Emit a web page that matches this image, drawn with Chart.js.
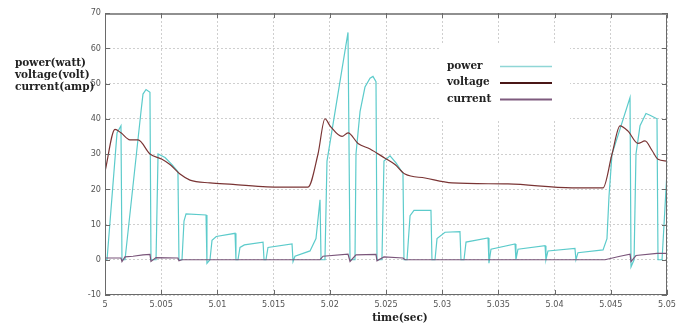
<!DOCTYPE html>
<html>
<head>
<meta charset="utf-8">
<script src="https://cdn.jsdelivr.net/npm/chart.js@4/dist/chart.umd.min.js"></script>
<style>
html,body{margin:0;padding:0;background:#fff;}
canvas{display:block;}
</style>
</head>
<body>
<canvas id="c" width="684" height="329"></canvas>
<script>
// ---- data ----
const xTickValues = [5, 5.005, 5.01, 5.015, 5.02, 5.025, 5.03, 5.035, 5.04, 5.045, 5.05];
const xTickLabels = ['5', '5.005', '5.01', '5.015', '5.02', '5.025', '5.03', '5.035', '5.04', '5.045', '5.05'];
const yTickValues = [-10, 0, 10, 20, 30, 40, 50, 60, 70];
const seriesNames = ['power', 'voltage', 'current'];
const yTitleLines = ['power(watt)', 'voltage(volt)', 'current(amp)'];
const xTitle = 'time(sec)';

const powerT = [5.00000, 5.00018, 5.00107, 5.00142, 5.00151, 5.00178, 5.00320, 5.00338, 5.00365, 5.00400, 5.00409,
  5.00454, 5.00472, 5.00534, 5.00596, 5.00649, 5.00658, 5.00685, 5.00703, 5.00721, 5.00899, 5.00907,
  5.00934, 5.00952, 5.00990, 5.01157, 5.01165, 5.01183, 5.01201, 5.01240, 5.01406, 5.01415, 5.01432, 5.01450,
  5.01664, 5.01673, 5.01690, 5.01824, 5.01877, 5.01913, 5.01922, 5.01957, 5.01975, 5.02162,
  5.02180, 5.02224, 5.02233, 5.02269, 5.02313, 5.02358, 5.02384, 5.02411, 5.02420, 5.02464,
  5.02482, 5.02536, 5.02589, 5.02651, 5.02660, 5.02687, 5.02714, 5.02749, 5.02900, 5.02909,
  5.02936, 5.02954, 5.03025, 5.03158, 5.03167, 5.03194, 5.03212, 5.03408, 5.03416, 5.03434,
  5.03648, 5.03656, 5.03674, 5.03915, 5.03923, 5.03941, 5.04181, 5.04190, 5.04208, 5.04431,
  5.04466, 5.04484, 5.04511, 5.04671, 5.04680, 5.04707, 5.04724, 5.04760, 5.04813, 5.04849, 5.04911,
  5.04920, 5.04956, 5.05000];
const powerV = [0, 0, 36, 38, 0, 0, 42, 47, 48.3, 47.5, 0,
  0, 30, 29, 27, 25, 0, 0, 11, 13, 12.7, -1,
  0, 5.5, 6.6, 7.5, 0, 0, 3.5, 4.2, 5, 0, 0, 3.5,
  4.5, -0.5, 1, 2.5, 6, 17, 0, 0, 28, 64.5,
  0, 0, 30, 42, 49, 51.5, 52, 50.5, 0, 0,
  28, 29.5, 27.5, 24.5, 0, 0, 12.5, 14, 14, 0,
  0, 6, 7.8, 8, 0, 0, 5, 6.2, -1, 3,
  4.5, 0, 3, 4, 0, 2.5, 3.2, 0, 2, 2.8,
  6, 18, 30, 46, -2, 0, 30, 38, 41.5, 41, 40,
  0, 0, 25];

const voltageT = [5.00000, 5.00089, 5.00142, 5.00222, 5.00294, 5.00400, 5.00507, 5.00578, 5.00667, 5.00756,
  5.00934, 5.01139, 5.01441, 5.01806, 5.01895, 5.01957, 5.02002, 5.02109, 5.02162, 5.02251,
  5.02358, 5.02491, 5.02580, 5.02669, 5.02847, 5.03087, 5.03585, 5.04155, 5.04431, 5.04511,
  5.04582, 5.04653, 5.04742, 5.04804, 5.04867, 5.04920, 5.05000];
const voltageV = [25, 37, 36, 34, 34, 30, 28.5, 27, 24.3, 22.6,
  21.8, 21.4, 20.7, 20.6, 30, 40, 38, 35, 36, 33,
  31.4, 28.8, 27, 24.3, 23.2, 21.8, 21.5, 20.4, 20.4, 30,
  38, 36.5, 33, 33.7, 31, 28.5, 28];

const currentT = [5.00000, 5.00142, 5.00151, 5.00178, 5.00249, 5.00338, 5.00400, 5.00409, 5.00454, 5.00649,
  5.00658, 5.00685, 5.01913, 5.01940, 5.02162, 5.02180, 5.02233, 5.02411, 5.02420, 5.02482,
  5.02651, 5.02669, 5.04448, 5.04582, 5.04671, 5.04680, 5.04724, 5.04911, 5.05000];
const currentV = [0.5, 0.5, -0.5, 0.8, 1, 1.4, 1.5, -0.5, 0.6, 0.5,
  -0.3, 0, 0, 1, 1.6, -0.5, 1.4, 1.5, -0.3, 0.8,
  0.5, 0, 0, 1, 1.6, -0.5, 1.2, 1.8, 1.8];

const colors = ['#5ccbcb', '#7a3434', '#7a557a'];
const legendColors = ['#8fd6d6', '#4a1616', '#7e5a7e'];

const toPts = (t, v) => t.map((x, i) => ({x: x, y: v[i]}));

const serif = "'DejaVu Serif', 'Liberation Serif', serif";
const narrow = "'Liberation Sans Narrow', 'DejaVu Sans Condensed', 'Liberation Sans', sans-serif";

const decor = {
  id: 'decor',
  afterDraw(chart) {
    const ctx = chart.ctx;
    const a = chart.chartArea;
    const xs = chart.scales.x, ys = chart.scales.y;
    ctx.save();
    // frame
    ctx.strokeStyle = '#6a6a6a';
    ctx.lineWidth = 1;
    ctx.strokeRect(a.left + 0.5, a.top + 0.5, a.right - a.left - 1, a.bottom - a.top - 1);
    ctx.strokeStyle = '#909090';
    ctx.lineWidth = 2;
    ctx.beginPath(); ctx.moveTo(a.left, a.top + 1); ctx.lineTo(a.right, a.top + 1); ctx.stroke();
    // inward ticks
    ctx.strokeStyle = '#6a6a6a';
    ctx.lineWidth = 1;
    ctx.beginPath();
    xTickValues.forEach(v => {
      const px = Math.round(xs.getPixelForValue(v)) + 0.5;
      ctx.moveTo(px, a.bottom); ctx.lineTo(px, a.bottom - 5);
      ctx.moveTo(px, a.top); ctx.lineTo(px, a.top + 5);
    });
    yTickValues.forEach(v => {
      const py = Math.round(ys.getPixelForValue(v)) + 0.5;
      ctx.moveTo(a.left, py); ctx.lineTo(a.left + 5, py);
      ctx.moveTo(a.right, py); ctx.lineTo(a.right - 5, py);
    });
    ctx.stroke();
    // y title (three lines)
    ctx.fillStyle = '#222';
    ctx.font = "bold 10.5px " + serif;
    ctx.textAlign = 'left';
    ctx.textBaseline = 'middle';
    yTitleLines.forEach((s, i) => ctx.fillText(s, 15, 63 + i * 12));
    // x title
    ctx.textAlign = 'center';
    ctx.fillText(xTitle, 400, 318);
    // legend box
    ctx.textAlign = 'left';
    ctx.fillStyle = '#ffffff';
    ctx.fillRect(440, 43, 130, 77);
    ctx.fillStyle = '#222';
    seriesNames.forEach((s, i) => {
      const y = 66 + i * 16.5;
      ctx.fillText(s, 447, y);
      ctx.strokeStyle = legendColors[i];
      ctx.lineWidth = i === 0 ? 1.5 : 2;
      ctx.beginPath(); ctx.moveTo(500, y + 0.5); ctx.lineTo(552, y + 0.5); ctx.stroke();
    });
    ctx.restore();
  }
};

new Chart(document.getElementById('c'), {
  type: 'line',
  data: {
    datasets: [
      {label: seriesNames[0], data: toPts(powerT, powerV), borderColor: colors[0], borderWidth: 1.2, order: 3},
      {label: seriesNames[1], data: toPts(voltageT, voltageV), borderColor: colors[1], borderWidth: 1.2, order: 2,
        cubicInterpolationMode: 'monotone'},
      {label: seriesNames[2], data: toPts(currentT, currentV), borderColor: colors[2], borderWidth: 1.2, order: 1}
    ]
  },
  options: {
    responsive: false,
    animation: false,
    layout: {padding: {top: 13, right: 17, left: 0, bottom: 0}},
    plugins: {legend: {display: false}, tooltip: {enabled: false}},
    elements: {point: {radius: 0}, line: {tension: 0}},
    scales: {
      x: {
        type: 'linear', min: 5, max: 5.05,
        afterBuildTicks: s => { s.ticks = xTickValues.map(v => ({value: v})); },
        afterFit: s => { s.height = 34; },
        ticks: {callback: (v, i) => xTickLabels[i], autoSkip: false, maxRotation: 0, padding: 4,
          color: '#555', font: {size: 9, family: narrow}},
        grid: {color: '#cfcfcf', drawTicks: false},
        border: {display: false, dash: [2, 2]}
      },
      y: {
        min: -10, max: 70,
        afterBuildTicks: s => { s.ticks = yTickValues.map(v => ({value: v})); },
        afterFit: s => { s.width = 105; },
        ticks: {padding: 4, color: '#555', font: {size: 9, family: narrow}},
        grid: {color: '#cfcfcf', drawTicks: false},
        border: {display: false, dash: [2, 2]}
      }
    }
  },
  plugins: [decor]
});
</script>
</body>
</html>
